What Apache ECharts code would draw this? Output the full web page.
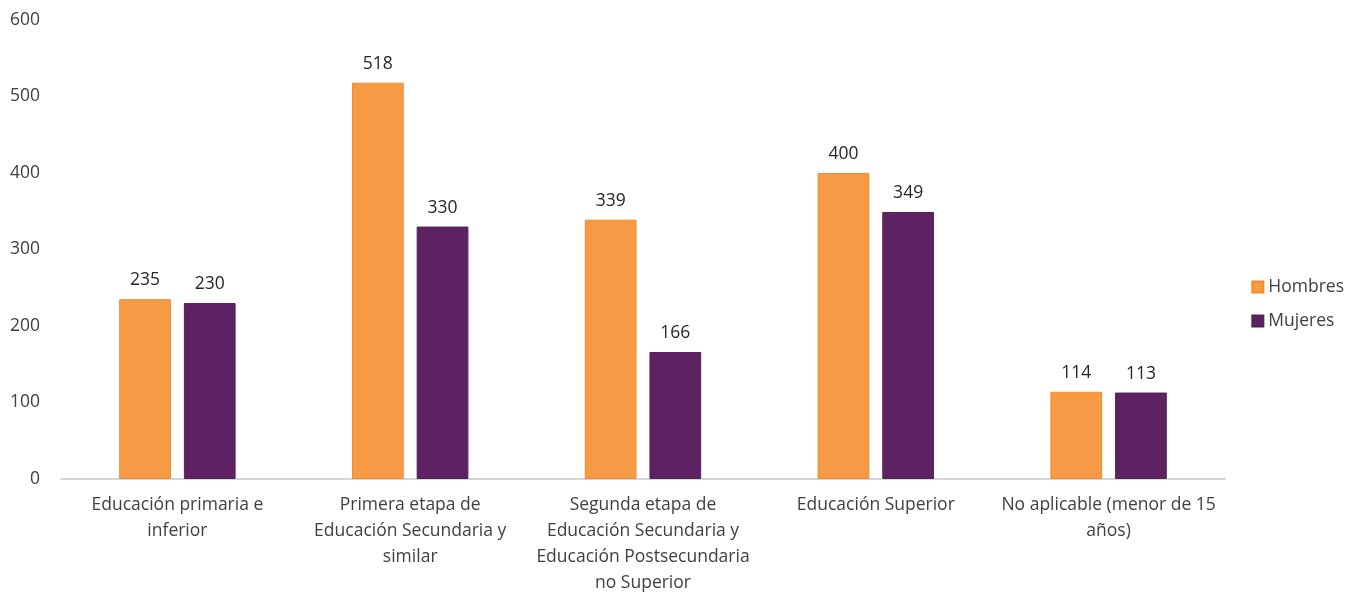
<!DOCTYPE html>
<html>
<head>
<meta charset="utf-8">
<script src="https://cdn.jsdelivr.net/npm/echarts@6/dist/echarts.min.js"></script>
<style>html,body{margin:0;padding:0;background:#fff}#c{width:1353px;height:593px}</style>
</head>
<body>
<div id="c"></div>
<script>
var categories = [
  'Educación primaria e\ninferior',
  'Primera etapa de\nEducación Secundaria y\nsimilar',
  'Segunda etapa de\nEducación Secundaria y\nEducación Postsecundaria\nno Superior',
  'Educación Superior',
  'No aplicable (menor de 15\naños)'
];
var hombres = [235, 518, 339, 400, 114];
var mujeres = [230, 330, 166, 349, 113];
var seriesNames = ['Hombres', 'Mujeres'];

var font = '"Open Sans", sans-serif';
var chart = echarts.init(document.getElementById('c'));
chart.setOption({
  animation: false,
  textStyle: {fontFamily: font},
  grid: {left: 61, right: 128, top: 20, bottom: 114, containLabel: false, outerBoundsMode: 'none'},
  legend: {
    orient: 'vertical', right: 4, top: 273,
    itemWidth: 11, itemHeight: 11, itemGap: 16,
    icon: 'rect',
    textStyle: {fontFamily: font, fontSize: 17.5, color: '#404040'},
    data: seriesNames
  },
  xAxis: {
    type: 'category', data: categories,
    axisLine: {lineStyle: {color: '#c8c8c8', width: 1.5}},
    axisTick: {show: false},
    axisLabel: {fontFamily: font, fontSize: 17.5, color: '#404040', lineHeight: 26, margin: 13, interval: 0}
  },
  yAxis: {
    type: 'value', min: 0, max: 600, interval: 100,
    axisLine: {show: false}, axisTick: {show: false},
    splitLine: {show: false},
    axisLabel: {fontFamily: font, fontSize: 17.5, color: '#404040', margin: 21, align: 'right'}
  },
  series: [
    {name: seriesNames[0], type: 'bar', data: hombres, barGap: '25%', barCategoryGap: '50%',
     itemStyle: {color: '#F79A45', borderColor: '#F58A2A', borderWidth: 1},
     label: {show: true, position: 'top', distance: 10, fontFamily: font, fontSize: 17.5, color: '#262626'}},
    {name: seriesNames[1], type: 'bar', data: mujeres,
     itemStyle: {color: '#5E2263', borderColor: '#55205c', borderWidth: 1},
     label: {show: true, position: 'top', distance: 10, fontFamily: font, fontSize: 17.5, color: '#262626'}}
  ]
});
</script>
</body>
</html>
